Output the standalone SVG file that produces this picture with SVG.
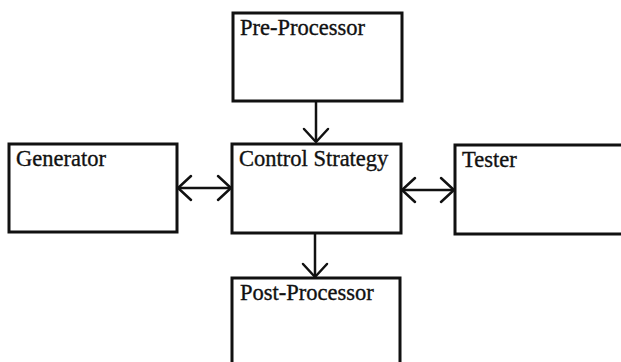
<svg xmlns="http://www.w3.org/2000/svg" width="621" height="362" viewBox="0 0 621 362">
  <defs>
    <style>
      .box { fill: #ffffff; stroke: #111111; stroke-width: 3; }
      .label { font-family: "Liberation Serif", "Times New Roman", serif; font-size: 22.5px; fill: #111111; stroke: #111111; stroke-width: 0.35; }
      .link { fill: none; stroke: #111111; stroke-width: 2.5; }
      .head { fill: none; stroke: #111111; stroke-width: 2.5; stroke-linecap: round; stroke-linejoin: miter; }
    </style>
    <marker id="vee" viewBox="-15 -15 17 30" markerWidth="17" markerHeight="30" refX="0" refY="0" orient="auto-start-reverse" markerUnits="userSpaceOnUse">
      <path class="head" d="M-13,-12 L0,0 L-13,12"/>
    </marker>
  </defs>
  <rect width="621" height="362" fill="#ffffff"/>

  <!-- connectors -->
  <g id="connectors">
    <line class="link" x1="316" y1="101" x2="316" y2="142" marker-end="url(#vee)"/>
    <line class="link" x1="178" y1="188" x2="231" y2="188" marker-start="url(#vee)" marker-end="url(#vee)"/>
    <line class="link" x1="402" y1="190" x2="454" y2="190" marker-start="url(#vee)" marker-end="url(#vee)"/>
    <line class="link" x1="315" y1="233" x2="315" y2="277" marker-end="url(#vee)"/>
  </g>

  <!-- nodes -->
  <g id="pre-processor">
    <rect class="box" x="233" y="13" width="169" height="88"/>
    <text class="label" x="240" y="35">Pre-Processor</text>
  </g>
  <g id="generator">
    <rect class="box" x="9" y="144" width="168" height="88"/>
    <text class="label" x="16" y="166">Generator</text>
  </g>
  <g id="control-strategy">
    <rect class="box" x="232" y="144" width="169" height="89"/>
    <text class="label" x="239" y="166">Control Strategy</text>
  </g>
  <g id="tester">
    <rect class="box" x="455" y="145" width="175" height="89"/>
    <text class="label" x="462" y="167">Tester</text>
  </g>
  <g id="post-processor">
    <rect class="box" x="232" y="278" width="168" height="100"/>
    <text class="label" x="240" y="300">Post-Processor</text>
  </g>
</svg>
